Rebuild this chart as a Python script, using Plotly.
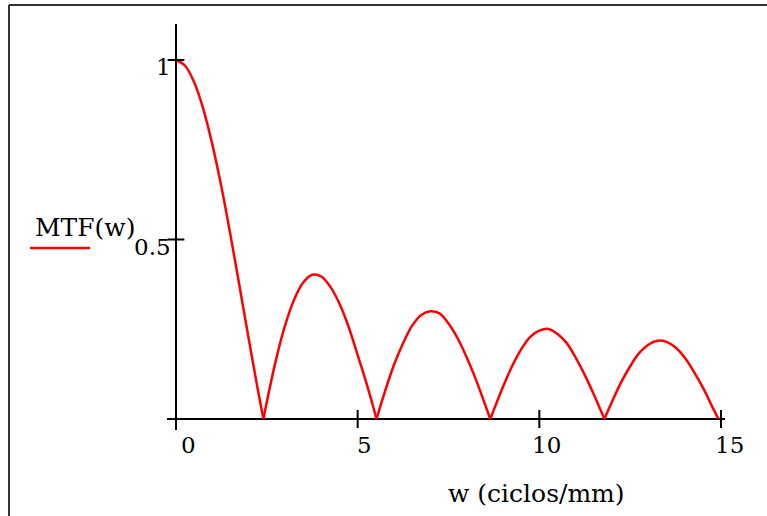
import plotly.graph_objects as go

# Data (MTF vs spatial frequency)
w_vals = [0.0, 0.25, 0.5, 0.75, 1.0, 1.25, 1.5, 1.75, 2.0, 2.25, 2.405,
          2.5, 2.75, 3.0, 3.25, 3.5, 3.75, 4.0, 4.25, 4.5, 4.75, 5.0, 5.25, 5.52,
          5.75, 6.0, 6.25, 6.5, 6.75, 7.0, 7.25, 7.5, 7.75, 8.0, 8.25, 8.5, 8.65,
          8.75, 9.0, 9.25, 9.5, 9.75, 10.0, 10.25, 10.5, 10.75, 11.0, 11.25, 11.5, 11.79,
          12.0, 12.25, 12.5, 12.75, 13.0, 13.25, 13.5, 13.75, 14.0, 14.25, 14.5, 14.75, 14.93]
mtf_vals = [1.000, 0.984, 0.938, 0.864, 0.765, 0.646, 0.512, 0.369, 0.224, 0.083, 0.0,
            0.048, 0.164, 0.260, 0.332, 0.380, 0.402, 0.397, 0.368, 0.321, 0.257, 0.178, 0.097, 0.0,
            0.076, 0.151, 0.211, 0.260, 0.290, 0.300, 0.294, 0.266, 0.225, 0.172, 0.111, 0.042, 0.0,
            0.026, 0.090, 0.147, 0.194, 0.229, 0.246, 0.251, 0.237, 0.212, 0.171, 0.123, 0.068, 0.0,
            0.048, 0.102, 0.147, 0.184, 0.207, 0.218, 0.215, 0.199, 0.171, 0.132, 0.088, 0.036, 0.0]

x_ticks = [0, 5, 10, 15]
x_tick_labels = ["0", "5", "10", "15"]
y_ticks = [0.5, 1]
y_tick_labels = ["0.5", "1"]

legend_label = "MTF(w)"
x_title = "w (ciclos/mm)"

W, H = 767, 516
ML, MR, MT, MB = 167, 42, 24, 86
FONT = "DejaVu Serif"
RED = "#ff0000"

# split into lobes at zeros so each lobe is smooth but cusps stay sharp
xs, ys = [], []
for i, (xv, yv) in enumerate(zip(w_vals, mtf_vals)):
    xs.append(xv); ys.append(yv)
    if yv == 0.0 and 0 < i < len(w_vals) - 1:
        xs.extend([None, xv]); ys.extend([None, yv])

fig = go.Figure()
fig.add_trace(go.Scatter(x=xs, y=ys, mode="lines", line=dict(color=RED, width=2.5, shape="spline", smoothing=1.0),
                         connectgaps=False, hoverinfo="skip", showlegend=False))
# tick marks crossing the axes
fig.add_trace(go.Scatter(x=x_ticks, y=[0] * len(x_ticks), mode="markers",
                         marker=dict(symbol="line-ns", size=13, line=dict(color="black", width=2)),
                         hoverinfo="skip", showlegend=False))
fig.add_trace(go.Scatter(x=[0] * len(y_ticks), y=y_ticks, mode="markers",
                         marker=dict(symbol="line-ew", size=12, line=dict(color="black", width=2)),
                         hoverinfo="skip", showlegend=False))

pw, ph = W - ML - MR, H - MT - MB
def px(x):
    return (x - ML) / pw
def py(y):
    return (H - MB - y) / ph

annotations = []
x_shifts = [12, 7, 7, 8]
for v, lab, s in zip(x_ticks, x_tick_labels, x_shifts):
    annotations.append(dict(x=v, y=0, xref="x", yref="y", text=lab, showarrow=False,
                            xanchor="center", yanchor="middle", xshift=s, yshift=-26,
                            font=dict(family=FONT, size=23, color="black")))
for v, lab in zip(y_ticks, y_tick_labels):
    annotations.append(dict(x=0, y=v, xref="x", yref="y", text=lab, showarrow=False,
                            xanchor="right", yanchor="middle", xshift=-3, yshift=-7,
                            font=dict(family=FONT, size=23, color="black")))
annotations.append(dict(x=px(85), y=py(227), xref="paper", yref="paper", text=legend_label,
                        showarrow=False, xanchor="center", yanchor="middle",
                        font=dict(family=FONT, size=25, color="black")))
annotations.append(dict(x=px(536), y=py(493), xref="paper", yref="paper", text=x_title,
                        showarrow=False, xanchor="center", yanchor="middle",
                        font=dict(family=FONT, size=25, color="black")))

shapes = [
    dict(type="line", xref="paper", yref="paper", x0=px(30), x1=px(90), y0=py(248), y1=py(248),
         line=dict(color=RED, width=2.5)),
    dict(type="line", xref="paper", yref="paper", x0=px(9), x1=px(W + 2), y0=py(5), y1=py(5),
         line=dict(color="#333333", width=2)),
    dict(type="line", xref="paper", yref="paper", x0=px(9), x1=px(9), y0=py(5), y1=py(H + 2),
         line=dict(color="#333333", width=2)),
]

x0r = -(176 - ML) / ((721 - 176) / 15)
x1r = 15 + (W - MR - 721) / ((721 - 176) / 15)
y0r = -(H - MB - 419) / (419 - 60)
y1r = 1 + (60 - MT) / (419 - 60)

fig.update_layout(
    width=W, height=H, margin=dict(l=ML, r=MR, t=MT, b=MB),
    paper_bgcolor="white", plot_bgcolor="white", showlegend=False,
    xaxis=dict(range=[x0r, x1r], showgrid=False, showticklabels=False, ticks="",
               zeroline=True, zerolinecolor="black", zerolinewidth=2, showline=False, fixedrange=True),
    yaxis=dict(range=[y0r, y1r], showgrid=False, showticklabels=False, ticks="",
               zeroline=True, zerolinecolor="black", zerolinewidth=2, showline=False, fixedrange=True),
    annotations=annotations, shapes=shapes,
)

fig.write_html("out.html")
